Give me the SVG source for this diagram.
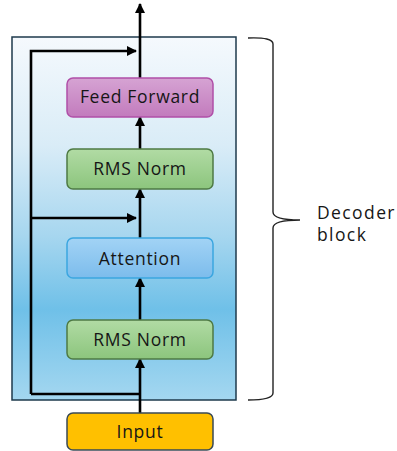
<svg xmlns="http://www.w3.org/2000/svg" width="397" height="451" viewBox="0 0 397 451">
<defs>
<linearGradient id="bg" x1="0" y1="0" x2="0" y2="1">
<stop offset="0" stop-color="#f5f9fd"/>
<stop offset="0.3" stop-color="#d9ecf7"/>
<stop offset="0.55" stop-color="#a6d6ef"/>
<stop offset="0.75" stop-color="#6fc0e8"/>
<stop offset="1" stop-color="#a4d7f0"/>
</linearGradient>
<linearGradient id="gPink" x1="0" y1="0" x2="0" y2="1">
<stop offset="0" stop-color="#d6a3d3"/>
<stop offset="1" stop-color="#c27bbd"/>
</linearGradient>
<linearGradient id="gGreen" x1="0" y1="0" x2="0" y2="1">
<stop offset="0" stop-color="#b1dba4"/>
<stop offset="1" stop-color="#8cc57d"/>
</linearGradient>
<linearGradient id="gBlue" x1="0" y1="0" x2="0" y2="1">
<stop offset="0" stop-color="#a2d3f5"/>
<stop offset="1" stop-color="#7cbcec"/>
</linearGradient>
<marker id="ah" markerWidth="10" markerHeight="10" refX="9" refY="5" orient="auto" markerUnits="userSpaceOnUse">
<path d="M0,0 L10,5 L0,10 Z" fill="#000"/>
</marker>
</defs>
<style>
.box{stroke-width:1.5}
.lbl{font-family:"Open Sans","Liberation Sans",sans-serif;font-size:17.5px;fill:#161616;text-anchor:middle;letter-spacing:0.7px}
.side{text-anchor:start;letter-spacing:1.4px}
.cn{fill:none;stroke:#000;stroke-width:2.6}
.ar{marker-end:url(#ah)}
</style>
<rect id="decoder-frame" x="12" y="37" width="224" height="363" fill="url(#bg)" stroke="#1e3a4c" stroke-width="1.5"/>
<g id="connectors">
<path class="cn ar" d="M31,394 L31,51 L136,51"/>
<path class="cn ar" d="M31,218 L136,218"/>
<path class="cn" d="M31,394 L140,394"/>
<line class="cn ar" x1="140" y1="413" x2="140" y2="359"/>
<line class="cn ar" x1="140" y1="320" x2="140" y2="278"/>
<line class="cn ar" x1="140" y1="238" x2="140" y2="189"/>
<line class="cn ar" x1="140" y1="149" x2="140" y2="117"/>
<line class="cn ar" x1="140" y1="78" x2="140" y2="4"/>
</g>
<g id="feed-forward">
<rect class="box" x="67" y="78" width="146" height="39" rx="6" fill="url(#gPink)" stroke="#b04fa8"/>
<text class="lbl" x="140" y="103">Feed Forward</text>
</g>
<g id="rms-norm-top">
<rect class="box" x="67" y="149" width="146" height="40" rx="6" fill="url(#gGreen)" stroke="#4e7a44"/>
<text class="lbl" x="140" y="175">RMS Norm</text>
</g>
<g id="attention">
<rect class="box" x="67" y="238" width="146" height="40" rx="6" fill="url(#gBlue)" stroke="#3ba6e0"/>
<text class="lbl" x="140" y="265">Attention</text>
</g>
<g id="rms-norm-bottom">
<rect class="box" x="67" y="320" width="146" height="39" rx="6" fill="url(#gGreen)" stroke="#4e7a44"/>
<text class="lbl" x="140" y="346">RMS Norm</text>
</g>
<g id="input">
<rect class="box" x="67" y="413" width="146" height="37" rx="6" fill="#ffc000" stroke="#3a4a55"/>
<text class="lbl" x="140" y="438">Input</text>
</g>
<g id="decoder-brace">
<path d="M248,38 Q273,37 273,44 L273,212 Q273,220 300,220 Q273,220 273,228 L273,393 Q273,400 248,400" fill="none" stroke="#222" stroke-width="1.4"/>
<text class="lbl side" x="317" y="219">Decoder</text>
<text class="lbl side" x="317" y="241">block</text>
</g>
</svg>
